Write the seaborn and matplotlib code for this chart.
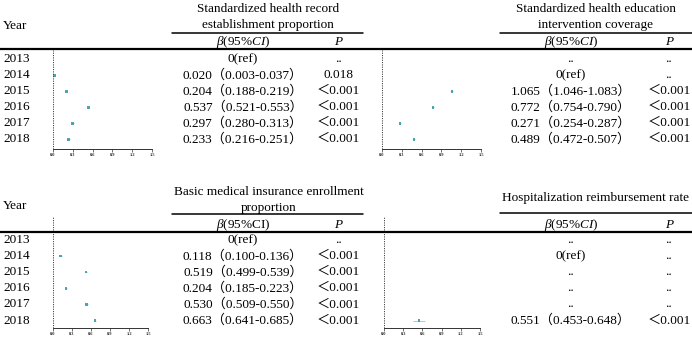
import numpy as np
import pandas as pd
import matplotlib
matplotlib.use("Agg")
import matplotlib.pyplot as plt
import seaborn as sns

# ---------------- data ----------------
years = [2013, 2014, 2015, 2016, 2017, 2018]

titles = [
    "Standardized health record\nestablishment proportion",
    "Standardized health education\nintervention coverage",
    "Basic medical insurance enrollment\nproportion",
    "Hospitalization reimbursement rate",
]

rec_beta = [None, 0.020, 0.204, 0.537, 0.297, 0.233]
rec_lo = [None, 0.003, 0.188, 0.521, 0.280, 0.216]
rec_hi = [None, 0.037, 0.219, 0.553, 0.313, 0.251]
rec_note = ["0(ref)", None, None, None, None, None]
rec_p = ["..", "0.018", "＜0.001", "＜0.001", "＜0.001", "＜0.001"]

edu_beta = [None, None, 1.065, 0.772, 0.271, 0.489]
edu_lo = [None, None, 1.046, 0.754, 0.254, 0.472]
edu_hi = [None, None, 1.083, 0.790, 0.287, 0.507]
edu_note = ["..", "0(ref)", None, None, None, None]
edu_p = ["..", "..", "＜0.001", "＜0.001", "＜0.001", "＜0.001"]

ins_beta = [None, 0.118, 0.519, 0.204, 0.530, 0.663]
ins_lo = [None, 0.100, 0.499, 0.185, 0.509, 0.641]
ins_hi = [None, 0.136, 0.539, 0.223, 0.550, 0.685]
ins_note = ["0(ref)", None, None, None, None, None]
ins_p = ["..", "＜0.001", "＜0.001", "＜0.001", "＜0.001", "＜0.001"]

hos_beta = [None, None, None, None, None, 0.551]
hos_lo = [None, None, None, None, None, 0.453]
hos_hi = [None, None, None, None, None, 0.648]
hos_note = ["..", "0(ref)", "..", "..", "..", None]
hos_p = ["..", "..", "..", "..", "..", "＜0.001"]

x_ticks = [0.0, 0.3, 0.6, 0.9, 1.2, 1.5]

# ---------------- styling ----------------
sns.set_theme(style="white")
plt.rcParams["font.family"] = ["Liberation Serif", "Noto Sans CJK SC", "DejaVu Sans"]
plt.rcParams["mathtext.fontset"] = "custom"
plt.rcParams["mathtext.rm"] = "Liberation Serif"
plt.rcParams["mathtext.it"] = "Liberation Serif:italic"

W, H = 692, 338
fig = plt.figure(figsize=(W / 100, H / 100), dpi=100)
fig.patch.set_facecolor("white")
FS = 9.5
PT_COLOR = "#3a9ea6"


def fx(x):
    return x / W


def fy(y):
    return 1 - y / H


def txt(x, y, s, ha="center", **kw):
    fig.text(fx(x), fy(y), s, ha=ha, va="center", fontsize=FS, color="black", **kw)


def hline(y, x0, x1, lw):
    fig.add_artist(plt.Line2D([fx(x0), fx(x1)], [fy(y), fy(y)], color="black", lw=lw,
                              transform=fig.transFigure))


def build(beta, lo, hi, note):
    rows = []
    for i, (b, l, h, n) in enumerate(zip(beta, lo, hi, note)):
        if b is None:
            label = n
        else:
            label = f"{b:.3f}（{l:.3f}-{h:.3f}）"
        rows.append(dict(row=i, year=years[i], beta=b, lo=l, hi=h, label=label))
    return pd.DataFrame(rows)


panels = [
    dict(df=build(rec_beta, rec_lo, rec_hi, rec_note), p=rec_p, title=titles[0],
         title_x=268, title_y=[9, 25], line_x=(172, 363), line_y=33, head_y=42,
         beta_x=243, p_x=338, rows_y0=59.3, dy=16.0,
         ax_x=(53, 152), ax_y=(50, 149), ci_italic=True, years=True),
    dict(df=build(edu_beta, edu_lo, edu_hi, edu_note), p=edu_p, title=titles[1],
         title_x=596, title_y=[9, 25], line_x=(500, 692), line_y=33, head_y=42,
         beta_x=571, p_x=669, rows_y0=59.3, dy=16.0,
         ax_x=(382, 481), ax_y=(50, 149), ci_italic=True, years=False),
    dict(df=build(ins_beta, ins_lo, ins_hi, ins_note), p=ins_p, title=titles[2],
         title_x=269, title_y=[192, 208], line_x=(172, 363), line_y=214, head_y=225,
         beta_x=243, p_x=338, rows_y0=240.0, dy=16.1,
         ax_x=(53, 148), ax_y=(217, 328), ci_italic=False, years=True),
    dict(df=build(hos_beta, hos_lo, hos_hi, hos_note), p=hos_p, title=titles[3],
         title_x=596, title_y=[198], line_x=(500, 692), line_y=213, head_y=225,
         beta_x=571, p_x=669, rows_y0=240.0, dy=16.1,
         ax_x=(384, 480), ax_y=(217, 328), ci_italic=True, years=False),
]

# full-width rules
hline(49, 0, W, 1.6)
hline(232, 0, W, 1.6)
txt(3, 26, "Year", ha="left")
txt(3, 206, "Year", ha="left")

for P in panels:
    df = P["df"]
    for line, yy in zip(P["title"].split("\n"), P["title_y"]):
        txt(P["title_x"], yy, line)
    hline(P["line_y"], P["line_x"][0], P["line_x"][1], 1.1)
    if P["ci_italic"]:
        txt(P["beta_x"], P["head_y"], r"$\beta$$\mathit{(95\%CI)}$")
    else:
        txt(P["beta_x"], P["head_y"], r"$\beta$(95%CI)")
    txt(P["p_x"], P["head_y"], "P", style="italic")
    for i, r in df.iterrows():
        yy = P["rows_y0"] + P["dy"] * r["row"]
        if P["years"]:
            txt(3, yy, str(r["year"]), ha="left")
        txt(P["beta_x"], yy, r["label"])
        txt(P["p_x"], yy, P["p"][i])

    # forest axes
    x0, x1 = P["ax_x"]
    ytop, ybot = P["ax_y"]
    ax = fig.add_axes([fx(x0), fy(ybot), (x1 - x0) / W, (ybot - ytop) / H])
    ax.set_facecolor("none")
    ax.set_xlim(0, 1.5)
    ax.set_ylim((ybot - P["rows_y0"]) / P["dy"], (ytop - P["rows_y0"]) / P["dy"])
    pts = df.dropna(subset=["beta"]).astype({"beta": float, "lo": float, "hi": float})
    ax.hlines(pts["row"], pts["lo"], pts["hi"], color=PT_COLOR, lw=0.6, alpha=0.55)
    sns.scatterplot(data=pts, x="beta", y="row", marker="s", s=3, color=PT_COLOR,
                    edgecolor="none", alpha=0.9, ax=ax, legend=False)
    ax.axvline(0, color="#444444", lw=0.7, ls=(0, (1.2, 1.2)))
    for side in ["top", "right", "left"]:
        ax.spines[side].set_visible(False)
    ax.spines["bottom"].set_color("#333333")
    ax.spines["bottom"].set_linewidth(0.7)
    ax.set_xticks(x_ticks)
    ax.set_xticklabels([f"{t:.1f}" for t in x_ticks], fontsize=3.2, fontweight="bold")
    ax.tick_params(axis="x", length=2, width=0.5, pad=1, color="#333333", bottom=True)
    ax.set_yticks([])
    ax.set_xlabel("")
    ax.set_ylabel("")

fig.savefig("out.png", dpi=100, facecolor="white")
